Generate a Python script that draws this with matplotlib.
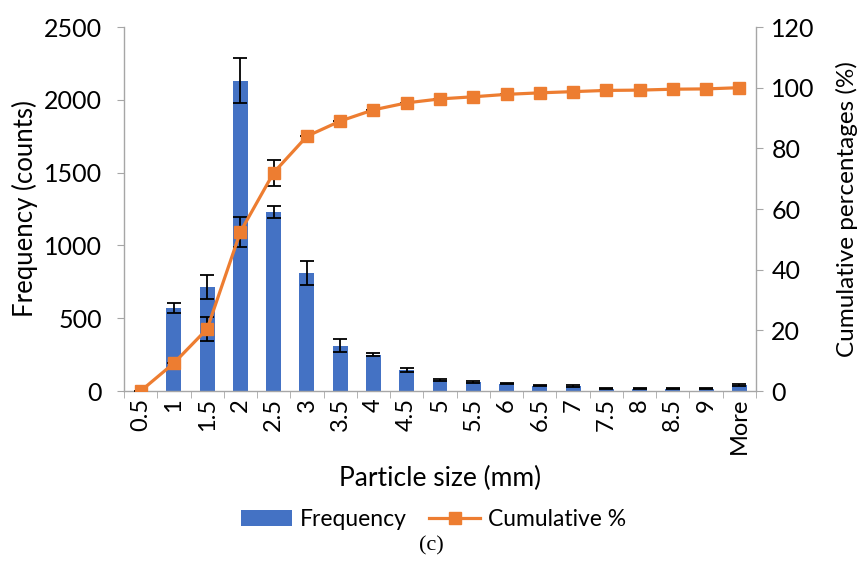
import matplotlib.pyplot as plt
import numpy as np

# particle size bins and counts
sizes = ['0.5', '1', '1.5', '2', '2.5', '3', '3.5', '4', '4.5', '5', '5.5',
         '6', '6.5', '7', '7.5', '8', '8.5', '9', 'More']
freq = [0, 570, 715, 2130, 1230, 810, 310, 250, 145, 75, 62,
        50, 35, 33, 15, 15, 15, 15, 40]
freq_err = [0, 35, 85, 155, 40, 80, 45, 8, 15, 5, 5,
            5, 4, 6, 4, 4, 4, 4, 6]
cum_pct = [0, 9.2, 20.5, 52.5, 72, 84, 89, 92.7, 95, 96.3, 97,
           97.8, 98.3, 98.7, 99.1, 99.2, 99.5, 99.6, 100]
cum_err = [0, 0, 4, 5, 4.3, 0, 0, 0, 0, 0, 0,
           0, 0, 0, 0, 0, 0, 0, 0]

blue = '#4472C4'
orange = '#ED7D31'
grey = '#A6A6A6'

plt.rcParams['font.family'] = ['Lato', 'DejaVu Sans']

fig = plt.figure(figsize=(8.62, 5.63), dpi=100)
ax = fig.add_axes([0.1439, 0.3055, 0.7331, 0.6465])
ax2 = ax.twinx()

x = np.arange(len(sizes))

# bars with error bars
ax.bar(x, freq, width=0.45, color=blue, zorder=2, label='Frequency')
ax.errorbar(x, freq, yerr=freq_err, fmt='none', ecolor='black',
            elinewidth=1.3, capsize=5, capthick=1.3, zorder=3)

# cumulative line
ax2.errorbar(x, cum_pct, yerr=cum_err, fmt='none', ecolor='black',
             elinewidth=1.3, capsize=5, capthick=1.3, zorder=2)
ax2.plot(x, cum_pct, color=orange, linewidth=2.3, marker='s',
         markersize=9, zorder=3, label='Cumulative %')

ax.set_xlim(-0.5, len(sizes) - 0.5)
ax.set_ylim(0, 2500)
ax2.set_ylim(0, 120)
ax.set_yticks(range(0, 2501, 500))
ax2.set_yticks(range(0, 121, 20))

ax.set_xticks(x)
ax.set_xticklabels(sizes, rotation=90, fontsize=17)
ax.set_xticks(np.arange(-0.5, len(sizes)), minor=True)
ax.tick_params(axis='x', which='major', length=0, pad=5)
ax.tick_params(axis='x', which='minor', length=5, color=grey)
ax.tick_params(axis='y', labelsize=18, length=5, color=grey, pad=11)
ax2.tick_params(axis='y', labelsize=18, length=5, color=grey, pad=6)

for a in (ax, ax2):
    a.spines['top'].set_visible(False)
    for s in ('left', 'right', 'bottom'):
        a.spines[s].set_color(grey)
        a.spines[s].set_linewidth(1)
ax.spines['right'].set_visible(False)
ax2.spines['left'].set_visible(False)
ax2.spines['bottom'].set_visible(False)

ax.set_ylabel('Frequency (counts)', fontsize=18.5, labelpad=4)
ax2.set_ylabel('Cumulative percentages (%)', fontsize=17.5, labelpad=15)
ax.set_xlabel('Particle size (mm)', fontsize=19, labelpad=8)

# legend below the plot
h1, l1 = ax.get_legend_handles_labels()
h2, l2 = ax2.get_legend_handles_labels()
fig.legend(h1 + h2, l1 + l2, loc='center', bbox_to_anchor=(0.503, 0.078),
           ncol=2, frameon=False, fontsize=16.5, handlelength=2.2,
           columnspacing=1.0, handletextpad=0.35)

fig.text(0.5, 0.03, '(c)', ha='center', va='center', fontsize=16,
         family='Liberation Serif')

plt.savefig('out.png', dpi=100)
